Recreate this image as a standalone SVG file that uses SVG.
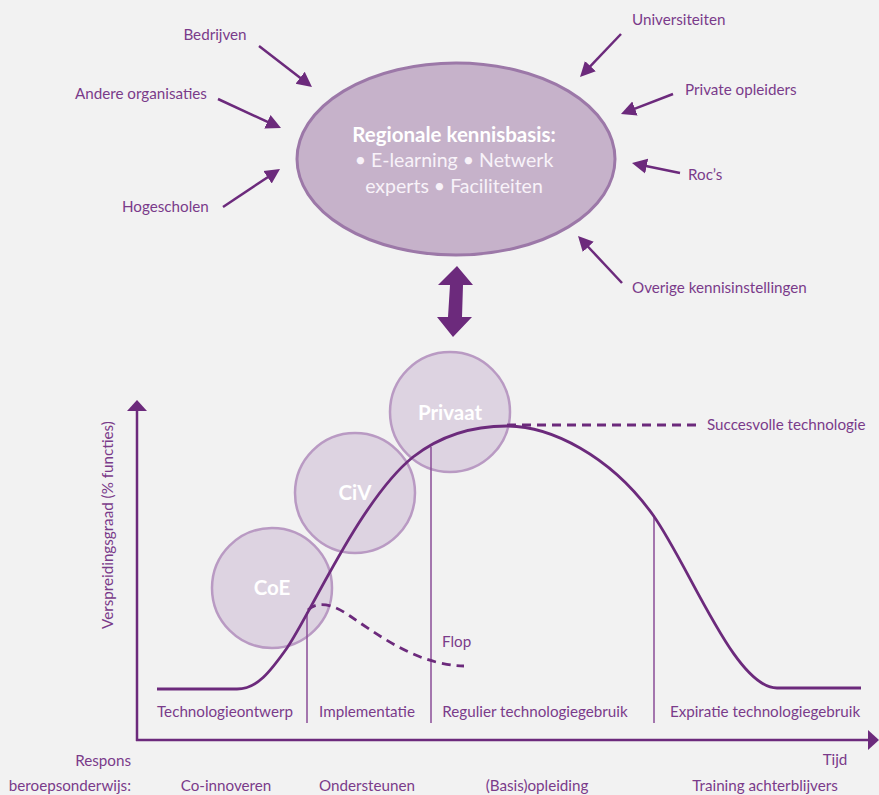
<svg xmlns="http://www.w3.org/2000/svg" width="879" height="795" viewBox="0 0 879 795">
<defs>
<style>
.lbl{font-family:"Lato","Liberation Sans",sans-serif;font-size:15.2px;fill:#7a3b8a}
.mid{text-anchor:middle}
.end{text-anchor:end}
.arr{stroke:#6c2a7c;stroke-width:2.5;fill:none;marker-end:url(#ah)}
.axis{stroke:#6c2a7c;stroke-width:2.5;fill:none}
.curve{stroke:#6c2a7c;stroke-width:2.8;fill:none}
.dash{stroke:#6c2a7c;stroke-width:2.8;fill:none;stroke-dasharray:9 6}
.sep{stroke:#8a4d97;stroke-width:1.5}
.bub{fill:#ddd3e1;stroke:#b99ac3;stroke-width:2.5}
.btxt{font-family:"Lato","Liberation Sans",sans-serif;font-size:20.5px;font-weight:bold;fill:#ffffff;text-anchor:middle}
.etxt{font-family:"Lato","Liberation Sans",sans-serif;font-size:19.5px;fill:#f8f2f9;text-anchor:middle}
</style>
<marker id="ah" markerUnits="userSpaceOnUse" markerWidth="18" markerHeight="18" viewBox="0 -8 18 16" refX="2" refY="0" orient="auto">
<path d="M0,-7.5 L15,0 L0,7.5 Z" fill="#6c2a7c"/>
</marker>
</defs>
<rect width="879" height="795" fill="#f2f2f2"/>

<g id="kennisbasis">
<ellipse cx="456" cy="159" rx="159" ry="96" fill="#c6b2ca" stroke="#9c78a8" stroke-width="3"/>
<text class="btxt" x="454" y="142">Regionale kennisbasis:</text>
<text class="etxt" x="454" y="167">• E-learning • Netwerk</text>
<text class="etxt" x="454" y="193">experts • Faciliteiten</text>
</g>

<g id="bedrijven"><text class="lbl mid" x="215" y="40">Bedrijven</text></g>
<g id="andere-organisaties"><text class="lbl" x="75" y="99">Andere organisaties</text></g>
<g id="hogescholen"><text class="lbl" x="122" y="212">Hogescholen</text></g>
<g id="universiteiten"><text class="lbl" x="632" y="25">Universiteiten</text></g>
<g id="private-opleiders"><text class="lbl" x="685" y="95">Private opleiders</text></g>
<g id="rocs"><text class="lbl" x="688" y="180">Roc’s</text></g>
<g id="overige"><text class="lbl" x="632" y="293">Overige kennisinstellingen</text></g>

<g id="connectors">
<line class="arr" x1="259" y1="46" x2="301.7" y2="79"/>
<line class="arr" x1="218" y1="99" x2="269.2" y2="122.6"/>
<line class="arr" x1="223" y1="207" x2="269.2" y2="176.2"/>
<line class="arr" x1="621" y1="34" x2="589" y2="67.6"/>
<line class="arr" x1="673" y1="94" x2="633.1" y2="109.3"/>
<line class="arr" x1="680" y1="173" x2="644.7" y2="165.7"/>
<line class="arr" x1="622" y1="283" x2="586.9" y2="245.5"/>
<polygon points="457,266 473,285 463,285 462,317 472,317 453,337 437,317 448,317 450,285 438,285" fill="#6c2a7c"/>
</g>

<g id="axes">
<line class="axis" x1="137" y1="408" x2="137" y2="741"/>
<polygon points="137,400 147,411 127,411" fill="#6c2a7c"/>
<line class="axis" x1="136" y1="740" x2="870" y2="740"/>
<polygon points="879,740 868,730 868,750" fill="#6c2a7c"/>
<text class="lbl mid" transform="translate(113,525) rotate(-90)">Verspreidingsgraad (% functies)</text>
<text class="lbl mid" x="835" y="765">Tijd</text>
</g>

<g id="coe"><circle class="bub" cx="272" cy="588" r="60"/><text class="btxt" x="272" y="595">CoE</text></g>
<g id="civ"><circle class="bub" cx="355" cy="493" r="60"/><text class="btxt" x="355" y="500">CiV</text></g>
<g id="privaat"><circle class="bub" cx="450" cy="412" r="60"/><text class="btxt" x="450" y="420">Privaat</text></g>

<g id="curves">
<line class="sep" x1="307" y1="612" x2="307" y2="723"/>
<line class="sep" x1="431" y1="447" x2="431" y2="723"/>
<line class="sep" x1="654" y1="515" x2="654" y2="723"/>
<path class="curve" d="M157,689 L237,689 C257,689 270,672 287,648 C310,615 360,500 413,457 C440,436 470,426 507,426 C550,426 610,455 653,515 C690,567 735,688 777,688 L861,688"/>
<path class="dash" d="M308,610 C316,602 330,602 350,616 C375,633 405,655 440,663 C450,665 456,666 464,666"/>
<path class="dash" d="M507,425 L702,425"/>
</g>

<g id="labels">
<text class="lbl" x="707" y="430">Succesvolle technologie</text>
<text class="lbl" x="442" y="647">Flop</text>
<text class="lbl mid" x="225" y="717">Technologieontwerp</text>
<text class="lbl mid" x="367" y="717">Implementatie</text>
<text class="lbl mid" x="535" y="717">Regulier technologiegebruik</text>
<text class="lbl mid" x="765" y="717">Expiratie technologiegebruik</text>
<text class="lbl end" x="131" y="766">Respons</text>
<text class="lbl end" x="131" y="791">beroepsonderwijs:</text>
<text class="lbl mid" x="226" y="791">Co-innoveren</text>
<text class="lbl mid" x="367" y="791">Ondersteunen</text>
<text class="lbl mid" x="537" y="791">(Basis)opleiding</text>
<text class="lbl mid" x="765" y="791">Training achterblijvers</text>
</g>
</svg>
